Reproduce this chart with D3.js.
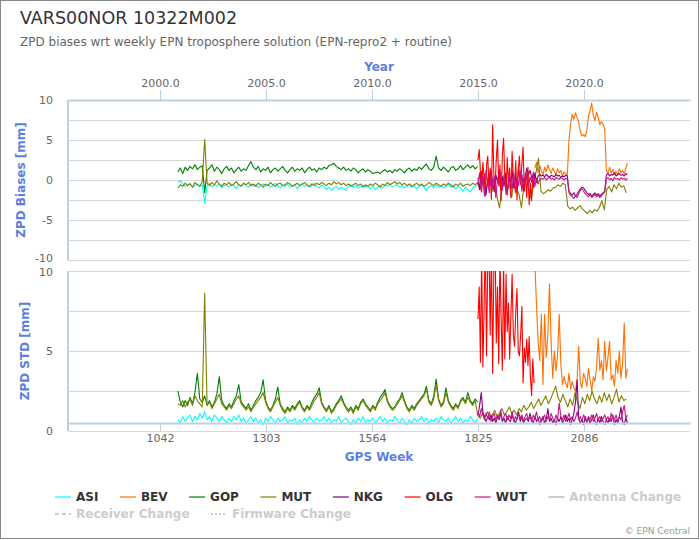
<!DOCTYPE html>
<html><head><meta charset="utf-8">
<script src="https://cdn.jsdelivr.net/npm/d3@7"></script>
<style>body{margin:0;background:#fff;} svg{display:block;font-family:"DejaVu Sans",sans-serif;}</style>
</head><body><svg id="c" width="700" height="540"></svg>
<script>
// ---------------- DATA ----------------
const stations = ["ASI","BEV","GOP","MUT","NKG","OLG","WUT"];
const colors   = ["#00ffff","#ff7000","#008000","#808000","#800080","#ff0000","#c71585"];
const startWeek = [1086, 1965, 1086, 1086, 1825, 1825, 1825];
const stepWeeks = [6, 4, 6, 6, 4, 3, 4];
const weekTicks = [1042, 1303, 1564, 1825, 2086];
const yearTicks = [2000, 2005, 2010, 2015, 2020];
const biasTicks = [-10, -5, 0, 5, 10];
const biasGrid  = [-10, -7.5, -5, -2.5, 0, 2.5, 5, 7.5, 10];
const stdTicks  = [0, 5, 10];
const stdGrid   = [0, 2.5, 5, 7.5, 10];
const extraLegend = ["Antenna Change","Receiver Change","Firmware Change"];
const extraDash   = [null, "4,3", "2,2"];

const asiBias = [-0.3,-0.1,-0.5,-0.8,-0.6,-0.4,-0.9,-0.7,-0.5,-0.8,
 -0.6,-2.9,-0.7,-0.4,-0.9,-0.6,-0.8,-0.5,-1.0,-0.7,
 -0.6,-0.9,-0.5,-0.7,-1.1,-0.6,-0.8,-0.4,-0.7,-0.9,
 -0.5,-0.8,-0.6,-1.0,-0.7,-0.5,-0.8,-0.6,-0.9,-0.7,
 -0.4,-0.7,-1.0,-0.6,-0.8,-0.5,-0.9,-0.7,-0.6,-1.1,
 -0.7,-0.5,-0.8,-0.6,-0.9,-0.7,-0.4,-0.8,-1.0,-0.6,
 -0.8,-1.2,-0.9,-1.3,-1.0,-0.8,-1.2,-0.9,-1.1,-1.3,
 -0.8,-0.6,-0.9,-0.7,-1.0,-0.8,-0.6,-0.9,-0.7,-1.1,
 -0.8,-1.2,-0.9,-0.7,-1.0,-0.6,-0.8,-0.5,-0.9,-0.7,
 -0.6,-0.9,-0.7,-1.0,-0.8,-0.5,-0.9,-0.7,-1.1,-0.8,
 -0.6,-0.9,-1.3,-0.8,-0.7,-1.0,-0.6,-0.9,-0.7,-1.0,
 -0.8,-0.5,-0.9,-0.7,-1.1,-0.8,-1.0,-1.4,-0.9,-1.2,
 -1.5,-1.0,-0.8,-0.6];
const gopBias = [1.0,1.5,0.8,1.6,1.2,1.7,1.4,1.9,1.3,1.6,
 1.8,-1.6,1.2,1.5,1.9,1.1,1.6,1.3,0.8,1.4,
 1.7,1.2,1.5,0.9,1.3,1.6,1.1,1.4,1.2,1.8,
 2.3,1.6,1.3,1.7,1.0,1.4,1.2,1.6,0.9,1.3,
 1.5,1.1,1.4,1.7,1.2,0.9,1.3,1.6,1.1,1.4,
 1.2,1.5,0.9,1.3,1.6,1.2,1.4,1.0,1.5,1.3,
 1.6,1.4,1.8,1.9,2.1,1.7,1.5,1.3,1.6,1.2,
 1.4,1.1,1.5,1.3,0.9,1.2,1.4,1.0,1.3,1.1,
 0.8,0.9,1.0,0.8,1.1,1.3,1.0,1.2,0.9,1.3,
 1.1,1.4,1.2,0.9,1.3,1.5,1.1,1.4,1.2,1.6,
 1.3,1.7,2.0,1.4,1.2,1.6,3.0,1.5,1.2,1.6,
 1.3,1.0,1.5,1.7,1.2,1.4,1.8,1.3,1.6,1.9,
 1.5,1.8,1.4,1.7];
const mutBias = [-1.0,-0.6,-0.8,-0.4,-0.7,-0.5,-0.9,-0.3,-0.6,-0.8,
 -0.2,5.1,-0.4,-0.7,-0.3,-0.6,-0.1,-0.5,-0.8,-0.4,
 -0.6,-0.3,-0.7,-0.5,-0.2,-0.6,-0.8,-0.4,-0.6,-0.3,
 -0.7,-0.5,-0.8,-0.4,-0.6,-0.9,-0.5,-0.7,-0.3,-0.6,
 -0.8,-0.5,-0.4,-0.7,-0.6,-0.3,-0.5,-0.8,-0.6,-0.4,
 -0.7,-0.5,-0.3,-0.6,-0.8,-0.5,-0.7,-0.4,-0.6,-0.3,
 -0.5,-0.7,-0.4,-0.6,-0.2,-0.5,-0.3,-0.6,-0.4,-0.7,
 -0.5,-0.8,-0.6,-0.4,-0.7,-0.5,-0.9,-0.6,-0.8,-0.5,
 -0.7,-0.4,-0.6,-0.9,-0.5,-0.7,-0.3,-0.6,-0.4,-0.2,
 -0.5,-0.3,-0.6,-0.4,-0.7,-0.5,-0.8,-0.6,-0.4,-0.7,
 -0.5,-0.8,-0.6,-0.3,-0.5,-0.7,-0.4,-0.6,-0.8,-0.5,
 -0.7,-0.4,-0.6,-0.9,-0.5,-0.7,-0.4,-0.8,-0.6,-0.5,
 -0.7,-0.4,-0.6,
 -0.3,-1.2,0.4,-1.8,-0.6,0.8,-1.4,
 -0.2,-2.1,-3.5,-0.8,0.6,-1.5,-0.4,-2.2,0.3,-1.0,
 -1.8,-3.5,-0.7,0.9,-1.2,-2.4,-0.5,1.0,2.7,
 -1.4,-1.7,-1.5,-1.2,-1.4,-1.0,-0.9,-0.6,-0.8,-0.4,-0.6,
 -3.3,-3.6,-3.4,-3.8,-3.5,-3.2,-3.6,-3.9,-4.2,-3.8,-4.1,-3.7,-3.9,-3.4,-2.6,-3.7,
 -1.2,-0.8,-1.5,-0.6,-1.1,-0.4,-0.9,-0.7,-1.6];
const nkgBias = [0.3,-1.2,1.1,-0.5,0.8,-1.8,0.2,-0.7,1.3,-0.3,
 -1.5,0.6,-0.2,1.0,-1.1,0.4,-0.8,0.9,-1.6,0.1,
 -0.4,1.2,-1.0,0.5,-0.6,1.4,-0.2,0.7,-1.3,0.3,
 1.5,0.6,1.2,0.4,-0.8,0.9,-0.3,0.5,0.7,
 0.5,0.6,0.4,0.7,0.5,0.3,0.6,0.5,0.4,0.7,0.5,0.6,0.3,0.5,0.4,0.6,0.5,
 -1.4,-1.7,-1.9,-1.6,-2.0,-1.8,-1.4,-1.1,-0.9,-1.0,-1.3,-1.6,-1.8,-1.7,-2.0,-1.8,-1.6,-1.9,-1.7,-2.0,-1.8,-1.6,
 -1.4,0.6,0.8,0.5,0.7,0.6,0.9,0.5,0.7,0.8,0.6,0.7,0.5,0.8,0.6];
const wutBias = [-0.6,0.9,-1.4,0.4,-2.0,1.2,-0.3,-1.6,0.7,-0.9,
 0.5,-2.2,0.2,-0.8,1.0,-1.3,0.6,-0.5,-1.9,0.8,
 -0.2,-1.1,0.9,-1.6,0.3,-0.7,1.1,-1.4,0.2,-0.6,
 0.8,-1.0,0.4,-0.3,1.0,-0.8,0.2,-0.5,0.1,
 0.2,0.1,0.3,0.0,0.2,0.4,0.1,0.2,0.0,0.3,0.2,0.1,0.3,0.2,0.0,0.2,0.1,
 -1.6,-1.9,-2.1,-2.3,-2.0,-2.2,-1.7,-1.3,-1.1,-1.4,-1.7,-1.9,-2.1,-1.8,-2.2,-2.0,-1.8,-2.1,-1.9,-2.2,-2.0,-1.7,
 -1.5,0.1,0.3,0.0,0.2,-0.1,0.3,0.1,0.2,0.0,0.3,0.1,0.2,0.0,0.2];
const olgBias = [2.5,3.8,1.0,-1.5,2.2,0.5,-2.0,1.8,3.0,-0.8,
 1.5,-2.4,6.9,0.8,-1.2,2.6,5.0,-0.5,1.9,-2.6,
 3.2,5.2,0.4,-1.8,2.8,-0.3,1.5,-2.2,3.6,0.2,
 -1.0,2.4,-2.5,1.2,3.0,-0.6,2.0,4.1,-1.4,0.9,
 -2.2,1.6,-3.1,-0.4,-2.6,0.5,-1.0];
const bevBias = [1.5,2.2,0.9,1.8,1.2,0.6,1.6,1.0,1.9,1.3,
 0.8,1.5,1.1,0.7,1.4,0.9,1.2,0.5,1.0,0.8,0.6,
 5.0,7.0,8.2,7.6,8.4,7.8,7.2,6.0,5.5,5.7,5.4,6.2,8.0,8.6,9.6,8.0,7.4,8.5,7.8,6.9,7.3,7.0,6.4,
 1.2,0.8,1.6,0.9,1.3,0.7,1.1,0.6,1.4,0.9,1.2,0.8,1.5,2.1];

const asiStd = [0.7,0.5,0.9,0.6,0.8,1.0,0.6,0.9,0.7,1.1,
 0.8,1.2,0.7,0.9,0.6,1.0,0.8,0.6,0.9,0.7,
 0.5,0.8,0.6,0.9,0.7,1.0,0.6,0.8,0.5,0.7,
 0.9,0.6,0.8,0.5,0.7,0.4,0.8,0.6,0.9,0.7,
 0.5,0.8,0.6,0.7,0.9,0.5,0.7,0.6,0.8,0.4,
 0.7,0.5,0.8,0.6,0.9,0.7,0.5,0.8,0.6,0.7,
 0.9,0.6,0.8,0.5,0.7,0.6,0.9,0.5,0.7,0.8,
 0.6,0.4,0.7,0.5,0.8,0.6,0.9,0.5,0.7,0.6,
 0.8,0.5,0.7,0.9,0.6,0.8,0.5,0.7,0.6,0.9,
 0.7,0.5,0.8,0.6,0.4,0.7,0.5,0.8,0.6,0.7,
 0.9,0.6,0.8,0.5,0.7,0.6,0.8,0.5,0.9,0.7,
 0.6,0.8,0.5,0.7,0.9,0.6,0.8,0.5,0.7,0.6,
 0.9,0.7,0.5,0.8];
const gopStd = [2.5,1.8,1.5,1.9,1.6,2.1,1.7,2.4,3.6,2.0,
 1.8,2.2,1.6,1.9,1.5,1.8,2.3,3.4,1.9,1.6,
 1.4,1.7,1.5,1.9,2.2,2.9,1.8,1.6,1.4,1.7,
 1.3,1.6,1.9,2.1,2.4,3.2,1.9,1.5,1.3,1.6,
 2.0,2.75,1.7,1.4,1.2,1.5,1.3,1.6,1.4,1.7,
 1.9,1.5,1.3,1.6,1.4,1.8,2.1,2.3,2.7,1.8,
 1.5,1.3,1.6,1.2,1.4,1.7,1.9,2.2,1.8,1.5,
 1.3,1.5,1.2,1.6,1.4,1.8,2.0,1.7,1.5,1.3,
 1.6,1.4,1.8,2.1,2.3,2.6,1.9,1.6,1.4,1.5,
 1.8,2.0,2.4,1.9,1.5,1.3,1.6,1.4,1.7,1.9,
 2.1,2.3,2.8,1.9,1.7,2.2,3.25,2.0,1.6,1.8,
 2.7,1.9,1.6,1.4,1.7,1.5,1.9,2.1,1.8,2.4,
 1.9,1.7,2.0,1.8];
const mutStd = [1.7,1.6,1.9,1.5,1.8,2.0,1.6,2.2,1.9,1.7,
 1.5,8.6,1.6,1.8,1.4,1.7,2.0,2.3,1.7,1.5,
 1.3,1.6,1.4,1.7,2.0,2.2,1.7,1.5,1.3,1.5,
 1.2,1.5,1.7,1.9,2.1,2.4,1.8,1.4,1.2,1.5,
 1.8,2.1,1.6,1.3,1.1,1.4,1.2,1.5,1.3,1.6,
 1.8,1.4,1.2,1.5,1.3,1.6,1.9,2.1,2.4,1.7,
 1.4,1.2,1.5,1.1,1.3,1.6,1.8,2.0,1.7,1.4,
 1.2,1.4,1.1,1.5,1.3,1.7,1.9,1.6,1.4,1.2,
 1.5,1.3,1.7,1.9,2.1,2.4,1.8,1.5,1.3,1.4,
 1.7,1.9,2.2,1.8,1.4,1.2,1.5,1.3,1.6,1.8,
 2.0,2.2,2.6,1.8,1.6,2.0,2.9,1.9,1.5,1.7,
 2.4,1.8,1.5,1.3,1.6,1.4,1.8,2.0,1.7,2.1,
 1.8,1.6,1.9,
 1.0,0.8,1.1,0.9,1.2,0.8,1.0,
 1.3,0.9,1.1,1.4,1.0,1.2,1.5,1.1,1.3,1.0,
 1.4,1.2,1.6,1.3,1.5,1.8,1.4,1.7,2.0,
 1.6,1.9,2.2,1.7,2.0,2.4,2.8,2.1,1.8,2.3,1.9,
 1.5,2.0,1.6,2.4,1.8,1.4,2.1,1.7,2.3,1.9,2.5,2.0,1.7,2.2,1.8,2.4,
 1.9,2.3,1.7,2.1,2.6,1.8,2.2,1.9,2.0];
const nkgStd = [1.0,1.6,2.4,1.2,0.8,0.6,0.9,0.7,1.0,0.6,
 0.8,0.5,0.9,0.7,1.1,0.6,0.8,0.5,0.9,0.7,
 0.6,1.0,0.7,0.5,0.8,1.2,0.6,0.9,0.5,0.7,
 0.8,0.6,1.1,0.7,0.5,0.9,0.6,0.8,0.4,0.7,
 0.9,0.5,0.7,1.4,0.6,0.8,0.5,0.7,0.4,0.8,
 0.6,0.9,0.5,0.7,1.0,0.6,0.8,0.4,0.7,1.1,
 1.8,3.2,0.8,0.5,0.7,0.4,0.9,0.6,0.8,0.5,
 0.7,1.0,0.6,0.4,0.8,0.5,0.9,0.6,0.4,0.7,
 0.5,0.8,0.6,1.0,0.4,0.7,0.5,0.9,1.5,0.6,
 0.4,0.8,0.5];
const wutStd = [1.2,0.9,1.4,1.0,0.7,1.1,0.8,1.2,0.6,0.9,
 1.1,0.7,1.0,0.8,1.3,0.6,0.9,1.1,0.7,1.0,
 0.8,1.2,0.6,0.9,0.7,1.1,0.8,1.0,0.6,0.9,
 1.1,0.7,0.9,0.6,1.0,0.8,1.2,0.7,0.9,0.6,
 0.8,1.0,0.6,0.9,0.7,1.1,0.8,0.6,1.0,0.7,
 1.75,0.9,0.7,1.0,0.6,0.8,1.1,0.7,0.9,0.6,
 0.8,1.2,0.7,0.9,0.6,1.0,0.8,0.5,0.9,0.7,
 1.0,0.6,0.8,1.1,0.7,0.9,0.6,0.8,1.0,0.7,
 0.9,0.6,1.1,0.8,0.7,1.0,0.6,0.9,0.7,1.2,
 1.6,0.8,1.0];
const olgStd = [7.0,9.0,4.3,11.0,4.0,7.6,12.0,4.7,10.5,12.0,
 6.0,11.5,3.6,10.0,12.0,5.5,9.0,4.2,11.0,7.0,
 3.8,10.5,4.5,9.8,6.2,8.0,4.5,7.2,9.8,6.0,
 5.3,7.4,8.9,5.0,4.7,6.0,7.8,3.0,5.2,4.3,
 5.75,4.1,5.9,3.4,2.2,4.5,3.0];
const bevStd = [10.5,7.9,5.6,4.4,7.3,2.9,7.3,4.6,6.0,9.2,
 5.6,3.3,5.0,3.75,4.8,7.3,4.2,2.9,3.4,3.0,
 2.7,3.6,2.6,3.1,2.7,2.5,3.2,5.3,3.0,2.7,
 3.6,3.3,2.8,3.9,3.2,2.5,3.4,3.1,4.0,5.8,
 3.8,4.4,3.2,5.6,3.75,4.6,5.6,3.2,3.5,2.8,
 4.4,3.6,5.0,3.3,4.2,6.75,3.3,3.9];

const biasSeries = [asiBias, bevBias, gopBias, mutBias, nkgBias, olgBias, wutBias];
const stdSeries  = [asiStd, bevStd, gopStd, mutStd, nkgStd, olgStd, wutStd];

// ---------------- CHART ----------------
const svg = d3.select("#c");
const AX = "#c0d0e0", GRID = "#d8d8d8", TICKTXT = "#666666", TITLEBLUE = "#5b7fde";
svg.append("rect").attr("x",0.5).attr("y",0.5).attr("width",698).attr("height",538)
  .attr("fill","#fff").attr("stroke","#888").attr("stroke-width",1);

svg.append("text").attr("x",20).attr("y",24).attr("font-size",17.5).attr("fill","#333")
  .text("VARS00NOR 10322M002");
svg.append("text").attr("x",20).attr("y",46).attr("font-size",12).attr("fill","#666")
  .text("ZPD biases wrt weekly EPN troposphere solution (EPN-repro2 + routine)");

const L = 68, R = 690;
const x = d3.scaleLinear().domain([815.5, 2347]).range([L, R]);
const weekToYear = w => 2000 + (w - 1042) / 52.2;
const xYear = d3.scaleLinear().domain([weekToYear(815.5), weekToYear(2347)]).range([L, R]);
const yBias = d3.scaleLinear().domain([-10, 10]).range([260, 100]);
const yStd  = d3.scaleLinear().domain([0, 10]).range([431, 271]);

function styleAxis(g){
  g.select(".domain").attr("stroke", AX).attr("stroke-width", 2);
  g.selectAll(".tick line").attr("stroke", AX);
  g.selectAll(".tick text").attr("fill", TICKTXT).attr("font-size", 11)
    .attr("font-family", "DejaVu Sans, sans-serif");
}

function panel(yScale, grid, labels, top, bottom, series, clipId, labelShift){
  const g = svg.append("g");
  g.selectAll("line.grid").data(grid).join("line").attr("class","grid")
    .attr("x1", L).attr("x2", R).attr("y1", d => Math.round(yScale(d)) + 0.5).attr("y2", d => Math.round(yScale(d)) + 0.5)
    .attr("stroke", GRID).attr("stroke-width", 1);
  g.selectAll("text.yl").data(labels).join("text").attr("class","yl")
    .attr("x", 53).attr("y", d => yScale(d) + labelShift(d)).attr("dy", "0.36em").attr("text-anchor","end")
    .attr("font-size", 11).attr("fill", TICKTXT).text(d => d);
  svg.append("clipPath").attr("id", clipId).append("rect")
    .attr("x", L).attr("y", top).attr("width", R - L).attr("height", bottom - top);
  const dg = svg.append("g").attr("clip-path", `url(#${clipId})`);
  const line = d3.line().x(d => x(d.w)).y(d => yScale(d.v));
  series.forEach((arr, s) => {
    const pts = arr.map((v, i) => ({w: startWeek[s] + i * stepWeeks[s], v}));
    dg.append("path").datum(pts).attr("d", line).attr("fill","none")
      .attr("stroke", colors[s]).attr("stroke-width", 1.1).attr("stroke-linejoin","round");
  });
  svg.append("line").attr("x1", L).attr("x2", L).attr("y1", top).attr("y2", bottom)
    .attr("stroke", AX).attr("stroke-width", 2);
}

panel(yBias, biasGrid, biasTicks, 100, 260, biasSeries, "clipTop", d => d === -10 ? -1.5 : 0);
panel(yStd, stdGrid, stdTicks, 271, 431, stdSeries, "clipBot", d => d === 10 ? 1.5 : 0);

const gTop = svg.append("g").attr("transform", "translate(0,100)")
  .call(d3.axisTop(xYear).tickValues(yearTicks).tickSize(10).tickSizeOuter(0).tickFormat(d3.format(".1f")));
styleAxis(gTop);
const gBot = svg.append("g").attr("transform", "translate(0,423)")
  .call(d3.axisBottom(x).tickValues(weekTicks).tickSize(8).tickSizeOuter(0).tickFormat(d3.format("d")));
styleAxis(gBot);

svg.append("text").attr("x", (L + R) / 2).attr("y", 71).attr("text-anchor","middle")
  .attr("font-size", 12).attr("font-weight","bold").attr("fill", TITLEBLUE).text("Year");
svg.append("text").attr("x", (L + R) / 2).attr("y", 461).attr("text-anchor","middle")
  .attr("font-size", 12).attr("font-weight","bold").attr("fill", TITLEBLUE).text("GPS Week");
svg.append("text").attr("transform","translate(25,180) rotate(-90)").attr("text-anchor","middle")
  .attr("font-size", 12).attr("font-weight","bold").attr("fill", TITLEBLUE).text("ZPD Biases [mm]");
svg.append("text").attr("transform","translate(29,351) rotate(-90)").attr("text-anchor","middle")
  .attr("font-size", 12).attr("font-weight","bold").attr("fill", TITLEBLUE).text("ZPD STD [mm]");

const items = stations.map((s, i) => ({name: s, color: colors[i], opacity: 0.6, text: "#333", dash: null}))
  .concat(extraLegend.map((s, i) => ({name: s, color: "#cccccc", opacity: 1, text: "#cccccc", dash: extraDash[i]})));
const lg = svg.append("g");
let lx = 55, ly = 501;
items.forEach(it => {
  const t = lg.append("text").attr("font-size", 12).attr("font-weight","bold").attr("fill", it.text).text(it.name);
  const w = t.node().getComputedTextLength();
  if (lx + 21 + w > 692) { lx = 55; ly += 17; }
  t.attr("x", lx + 21).attr("y", ly);
  lg.append("line").attr("x1", lx).attr("x2", lx + 16).attr("y1", ly - 4).attr("y2", ly - 4)
    .attr("stroke", it.color).attr("stroke-opacity", it.opacity).attr("stroke-width", 2)
    .attr("stroke-dasharray", it.dash);
  lx += 21 + w + 21.5;
});

svg.append("text").attr("x", 690).attr("y", 534).attr("text-anchor","end")
  .attr("font-size", 9).attr("fill", "#999").text("\u00a9 EPN Central");
</script></body></html>
